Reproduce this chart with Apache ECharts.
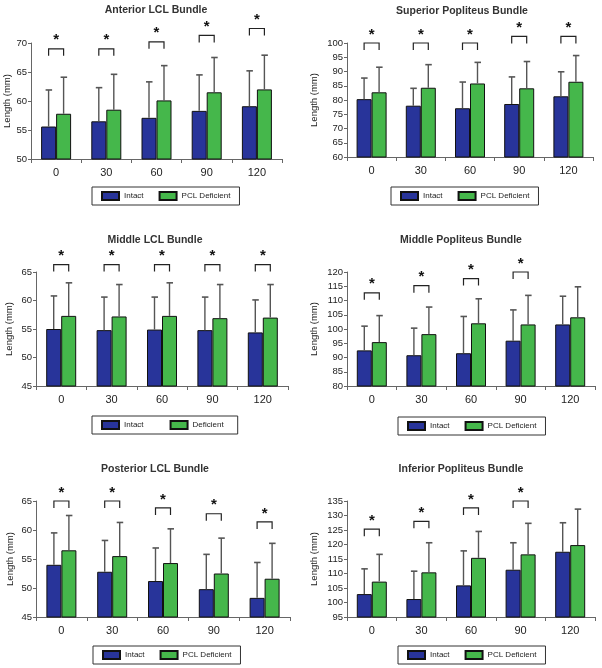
<!DOCTYPE html>
<html>
<head>
<meta charset="utf-8">
<script src="https://cdn.jsdelivr.net/npm/echarts@6/dist/echarts.min.js"></script>
<style>
html,body{margin:0;padding:0;background:#fff;}
#chart{width:602px;height:668px;}
</style>
</head>
<body>
<div id="chart"></div>
<script>
// ---- data ----
var categories = ['0', '30', '60', '90', '120'];

var titles = ['Anterior LCL Bundle', 'Superior Popliteus Bundle', 'Middle LCL Bundle',
              'Middle Popliteus Bundle', 'Posterior LCL Bundle', 'Inferior Popliteus Bundle'];

var deficientNames = ['PCL Deficient', 'PCL Deficient', 'Deficient', 'PCL Deficient', 'PCL Deficient', 'PCL Deficient'];

// Anterior LCL
var antIntact = [55.6, 56.5, 57.1, 58.3, 59.1];
var antIntactSD = [6.3, 5.8, 6.2, 6.2, 6.1];
var antDef = [57.8, 58.5, 60.1, 61.5, 62.0];
var antDefSD = [6.3, 6.1, 6.0, 6.0, 5.9];
var antSig = [69.0, 69.0, 70.2, 71.3, 72.5];

// Superior Popliteus
var supIntact = [80.3, 78.0, 77.1, 78.6, 81.3];
var supIntactSD = [7.4, 6.1, 9.2, 9.5, 8.6];
var supDef = [82.7, 84.3, 85.8, 84.1, 86.4];
var supDefSD = [8.8, 8.1, 7.4, 9.4, 9.2];
var supSig = [100, 100, 100, 102.3, 102.3];

// Middle LCL
var midIntact = [55.0, 54.8, 54.9, 54.8, 54.4];
var midIntactSD = [5.8, 5.8, 5.7, 5.8, 5.7];
var midDef = [57.3, 57.2, 57.3, 56.9, 57.0];
var midDefSD = [5.8, 5.6, 5.8, 5.9, 5.8];
var midSig = [66.3, 66.3, 66.3, 66.3, 66.3];

// Middle Popliteus
var mpopIntact = [92.5, 90.8, 91.5, 95.9, 101.6];
var mpopIntactSD = [8.5, 9.5, 12.9, 10.8, 9.9];
var mpopDef = [95.4, 98.2, 102.0, 101.6, 104.1];
var mpopDefSD = [9.3, 9.5, 8.6, 10.2, 10.7];
var mpopSig = [112.7, 115.2, 117.7, 120.0, null];

// Posterior LCL
var postIntact = [54.0, 52.8, 51.2, 49.8, 48.3];
var postIntactSD = [5.5, 5.4, 5.7, 6.0, 6.1];
var postDef = [56.5, 55.5, 54.3, 52.5, 51.6];
var postDefSD = [6.0, 5.8, 5.9, 6.1, 6.1];
var postSig = [65.0, 65.0, 63.8, 62.8, 61.4];

// Inferior Popliteus
var infIntact = [102.9, 101.2, 105.9, 111.3, 117.5];
var infIntactSD = [8.7, 9.6, 11.9, 9.3, 10.0];
var infDef = [107.2, 110.4, 115.4, 116.6, 119.8];
var infDefSD = [9.4, 10.2, 9.1, 10.7, 12.4];
var infSig = [125.3, 128.0, 132.6, 135.0, null];

// y-axis ranges (tick labels every 5)
var yMins = [50, 60, 45, 80, 45, 95];
var yMaxs = [70, 100, 65, 120, 65, 135];
var yStep = 5;

// ---- layout / style ----
var panels = [
  {intact: antIntact, isd: antIntactSD, def: antDef, dsd: antDefSD, sig: antSig},
  {intact: supIntact, isd: supIntactSD, def: supDef, dsd: supDefSD, sig: supSig},
  {intact: midIntact, isd: midIntactSD, def: midDef, dsd: midDefSD, sig: midSig},
  {intact: mpopIntact, isd: mpopIntactSD, def: mpopDef, dsd: mpopDefSD, sig: mpopSig},
  {intact: postIntact, isd: postIntactSD, def: postDef, dsd: postDefSD, sig: postSig},
  {intact: infIntact, isd: infIntactSD, def: infDef, dsd: infDefSD, sig: infSig}
];
var grids = [
  {left: 31, top: 43, width: 251, height: 116},
  {left: 347, top: 43, width: 246, height: 114},
  {left: 36, top: 272, width: 252, height: 114},
  {left: 347, top: 272, width: 248, height: 114},
  {left: 36, top: 501, width: 254, height: 116},
  {left: 347, top: 501, width: 248, height: 116}
];
var nameGaps = [18, 28, 22, 28, 21, 28];
var titlePos = [[156, 10], [462, 11], [155, 240], [461, 240], [155, 469], [461, 469]];
var legendPos = [[92, 187], [391, 187], [92, 416], [398, 417], [93, 646], [398, 646]];

var BLUE = '#28349a';
var GREEN = '#45b74b';
var FONT = 'Liberation Sans, Arial, sans-serif';
var BARW = 15;

function errRender(params, api) {
  var cat = api.value(0), mean = api.value(1), sd = api.value(2), side = api.value(3);
  var b = api.coord([cat, mean]);
  var t = api.coord([cat, mean + sd]);
  var x = b[0] + side * BARW / 2;
  return {
    type: 'group',
    children: [
      {type: 'line', shape: {x1: x, y1: b[1], x2: x, y2: t[1]}, style: {stroke: '#555', lineWidth: 1.4}},
      {type: 'line', shape: {x1: x - 3, y1: t[1], x2: x + 3.5, y2: t[1]}, style: {stroke: '#555', lineWidth: 1.6}}
    ]
  };
}
function sigRender(params, api) {
  var cat = api.value(0), lvl = api.value(1);
  var p = api.coord([cat, lvl]);
  var x1 = p[0] - BARW / 2, x2 = p[0] + BARW / 2, y = p[1];
  return {
    type: 'group',
    children: [
      {type: 'polyline', shape: {points: [[x1, y + 7], [x1, y], [x2, y], [x2, y + 7]]},
       style: {stroke: '#222', lineWidth: 1.2, fill: null}},
      {type: 'text', x: p[0], y: y - 1,
       style: {text: '*', font: 'bold 15px ' + FONT, fill: '#111', textAlign: 'center', textVerticalAlign: 'bottom'}}
    ]
  };
}

var option = {
  animation: false,
  backgroundColor: '#fff',
  grid: [], xAxis: [], yAxis: [], series: [], legend: [], graphic: []
};

panels.forEach(function (p, i) {
  option.grid.push(Object.assign({containLabel: false}, grids[i]));
  option.xAxis.push({
    type: 'category', gridIndex: i, data: categories,
    axisLine: {lineStyle: {color: '#666', width: 1}},
    axisTick: {show: true, length: 4, lineStyle: {color: '#666'}},
    axisLabel: {fontSize: 11, color: '#222', margin: 8, fontFamily: FONT},
    splitLine: {show: false}
  });
  option.yAxis.push({
    type: 'value', gridIndex: i, min: yMins[i], max: yMaxs[i], interval: yStep,
    axisLine: {show: true, lineStyle: {color: '#666', width: 1}},
    axisTick: {show: true, length: 3, lineStyle: {color: '#666'}},
    axisLabel: {fontSize: 9.5, color: '#222', margin: 4, fontFamily: FONT},
    splitLine: {show: false},
    name: 'Length (mm)', nameLocation: 'middle', nameGap: nameGaps[i],
    nameTextStyle: {fontSize: 9.5, color: '#222', fontFamily: FONT}
  });
  option.series.push({
    type: 'bar', name: 'Intact', xAxisIndex: i, yAxisIndex: i, data: p.intact,
    barWidth: BARW, barGap: '0%',
    itemStyle: {color: BLUE, borderColor: '#111', borderWidth: 1}
  });
  option.series.push({
    type: 'bar', name: deficientNames[i], xAxisIndex: i, yAxisIndex: i, data: p.def,
    barWidth: BARW, barGap: '0%',
    itemStyle: {color: GREEN, borderColor: '#111', borderWidth: 1}
  });
  var errData = [];
  categories.forEach(function (c, k) {
    errData.push([k, p.intact[k], p.isd[k], -1]);
    errData.push([k, p.def[k], p.dsd[k], 1]);
  });
  option.series.push({
    type: 'custom', xAxisIndex: i, yAxisIndex: i, data: errData, clip: false, z: 3,
    renderItem: errRender, encode: {x: 0, y: 1}, silent: true
  });
  var sigData = [];
  p.sig.forEach(function (v, k) { if (v != null) sigData.push([k, v]); });
  option.series.push({
    type: 'custom', xAxisIndex: i, yAxisIndex: i, data: sigData, clip: false, z: 3,
    renderItem: sigRender, encode: {x: 0, y: 1}, silent: true
  });
  option.legend.push({
    data: [{name: 'Intact', icon: 'rect'}, {name: deficientNames[i], icon: 'rect'}],
    left: legendPos[i][0], top: legendPos[i][1],
    orient: 'horizontal',
    padding: i === 2 ? [4, 14, 4, 9] : [4, 9, 4, 9],
    itemGap: i === 2 ? 26 : 15,
    itemWidth: 17, itemHeight: 8,
    borderColor: '#333', borderWidth: 1,
    selectedMode: false,
    textStyle: {fontSize: 8, color: '#222', fontFamily: FONT}
  });
  option.graphic.push({
    type: 'text', x: titlePos[i][0], y: titlePos[i][1],
    style: {text: titles[i], font: 'bold 10.5px ' + FONT, fill: '#333', textAlign: 'center', textVerticalAlign: 'middle'}
  });
});

var chart = echarts.init(document.getElementById('chart'), null, {renderer: 'canvas'});
chart.setOption(option);
</script>
</body>
</html>
